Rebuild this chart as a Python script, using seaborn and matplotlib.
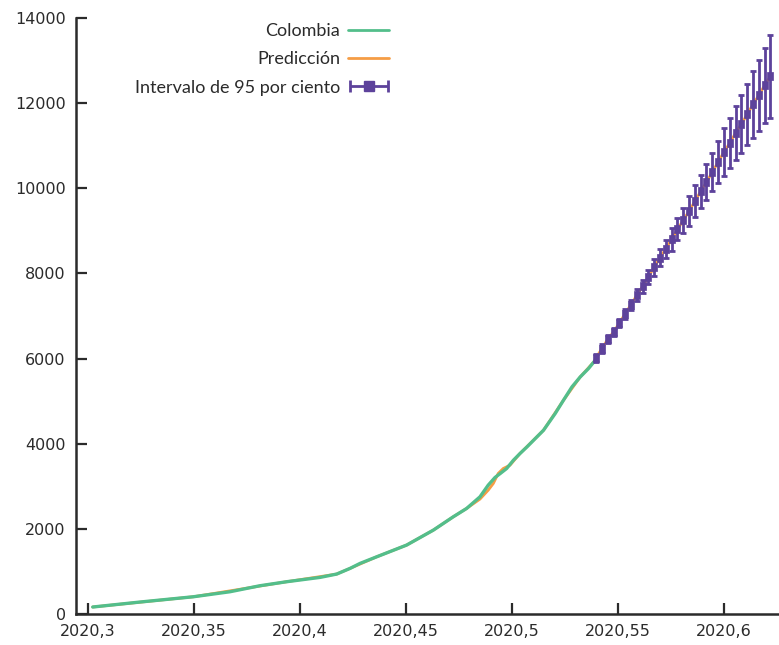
import numpy as np
import pandas as pd
import matplotlib
matplotlib.use("Agg")
import matplotlib.pyplot as plt
from matplotlib.lines import Line2D
from matplotlib.path import Path
from matplotlib.container import ErrorbarContainer
from matplotlib.legend_handler import HandlerErrorbar
from matplotlib.ticker import FuncFormatter
import seaborn as sns

# --------------------------
# Data
# --------------------------
# observed cases, x in year fraction
hist_x = [2020.3022, 2020.3245, 2020.3497, 2020.3670, 2020.3811, 2020.3937,
          2020.4095, 2020.4173, 2020.4236, 2020.4283, 2020.4362, 2020.4503,
          2020.4629, 2020.4723, 2020.4786, 2020.4849, 2020.4888, 2020.4920,
          2020.4945, 2020.4975, 2020.5007, 2020.5038, 2020.5071, 2020.5149,
          2020.5204, 2020.5243, 2020.5283, 2020.5322, 2020.5361, 2020.5393]
hist_y = [165, 282, 406, 524, 665, 759,
          861, 939, 1072, 1189, 1345, 1620,
          1971, 2284, 2480, 2753, 3028, 3208,
          3302, 3419, 3614, 3771, 3927, 4318,
          4710, 5022, 5335, 5569, 5766, 5961]

# fitted model over the history
fit_x = [2020.3022, 2020.3497, 2020.3937, 2020.4173, 2020.4236, 2020.4362,
         2020.4503, 2020.4629, 2020.4723, 2020.4786, 2020.4849, 2020.4888,
         2020.4912, 2020.4935, 2020.4959, 2020.4991, 2020.5038, 2020.5149,
         2020.5243, 2020.5322, 2020.5393]
fit_y = [165, 406, 759, 939, 1072, 1345,
         1620, 1971, 2284, 2480, 2700, 2910,
         3067, 3302, 3419, 3497, 3771, 4318,
         5022, 5569, 5961]

# forecast: day of year, centre and half width of the 95% interval
fc_days = [197, 198, 199, 200, 201, 202, 203, 204, 205, 206, 207,
           208, 209, 210, 211, 212, 213, 214, 215, 216, 217,
           218, 219, 220, 221, 222, 223, 224, 225, 226, 227]
fc_mid = [6024, 6235, 6454, 6626, 6837, 7056, 7268, 7487, 7698, 7917, 8151,
          8372, 8583, 8801, 9036, 9247, 9466, 9693, 9928, 10146, 10381,
          10616, 10850, 11062, 11296, 11508, 11735, 11970, 12181, 12416, 12634]
fc_err = [95, 98, 98, 100, 105, 118, 118, 140, 145, 175, 200,
          205, 210, 265, 260, 300, 350, 375, 385, 430, 455,
          485, 560, 590, 635, 680, 720, 790, 845, 885, 970]

labels = ["Colombia", "Predicción", "Intervalo de 95 por ciento"]

green = "#53be8b"
orange = "#f59d45"
purple = "#5d429b"
ink = "#2b2b2b"

# --------------------------
# Style
# --------------------------
sns.set_theme(style="ticks")
plt.rcParams["font.family"] = ["Lato", "DejaVu Sans"]

fc_x = 2020 + np.array(fc_days) / 365
hist = pd.DataFrame({"x": hist_x, "y": hist_y})
pred = pd.DataFrame({"x": fit_x + list(fc_x), "y": fit_y + fc_mid})

fig, ax = plt.subplots(figsize=(7.79, 6.45), dpi=100)
fig.subplots_adjust(left=0.097, right=1.0, bottom=0.048, top=0.972)

# --------------------------
# Plot
# --------------------------
sns.lineplot(data=pred, x="x", y="y", color=orange, lw=2, estimator=None,
             sort=False, ax=ax)
sns.lineplot(data=hist, x="x", y="y", color=green, lw=2.4, estimator=None,
             sort=False, ax=ax)

ax.errorbar(fc_x, fc_mid, yerr=fc_err, fmt="none", ecolor=purple,
            elinewidth=2, capsize=2.2, capthick=2, zorder=3)

rect = Path([(-0.33, -0.5), (0.33, -0.5), (0.33, 0.5), (-0.33, 0.5), (-0.33, -0.5)],
            closed=True)
sns.scatterplot(x=fc_x, y=fc_mid, marker=rect, s=40, color=purple,
                edgecolor=purple, linewidth=0.5, zorder=4, ax=ax)

# axes
ax.set_xlim(2020.2941, 2020.626)
ax.set_ylim(0, 14000)
ax.set_xticks([2020.3, 2020.35, 2020.4, 2020.45, 2020.5, 2020.55, 2020.6])
ax.set_yticks(range(0, 14001, 2000))
ax.xaxis.set_major_formatter(FuncFormatter(
    lambda v, p: f"{v:.2f}".rstrip("0").rstrip(".").replace(".", ",")))
ax.set_xlabel("")
ax.set_ylabel("")
sns.despine(ax=ax)
for side in ["left", "bottom"]:
    ax.spines[side].set_color(ink)
    ax.spines[side].set_linewidth(1.8)
ax.tick_params(direction="in", length=8, width=1.6, color=ink,
               labelsize=11.5, labelcolor=ink, pad=7)
for t in ax.get_xticklabels() + ax.get_yticklabels():
    t.set_family("DejaVu Sans")

# legend (error bar handle drawn horizontally)
h_col = Line2D([], [], color=green, lw=2)
h_pred = Line2D([], [], color=orange, lw=2)
h_ci = ax.errorbar([np.nan], [np.nan], xerr=[1], fmt="s", color=purple,
                   ms=7, elinewidth=2, capsize=4, capthick=2)
leg = ax.legend([h_col, h_pred, h_ci], labels,
                handler_map={ErrorbarContainer: HandlerErrorbar(xerr_size=1.05)},
                markerfirst=False, frameon=False, loc="upper right",
                bbox_to_anchor=(0.4994, 0.9643), bbox_transform=fig.transFigure,
                fontsize=13, handlelength=2.25, labelspacing=0.68,
                handletextpad=0.45, borderpad=0, borderaxespad=0)
for t in leg.get_texts():
    t.set_color(ink)

fig.savefig("out.png", dpi=100)
